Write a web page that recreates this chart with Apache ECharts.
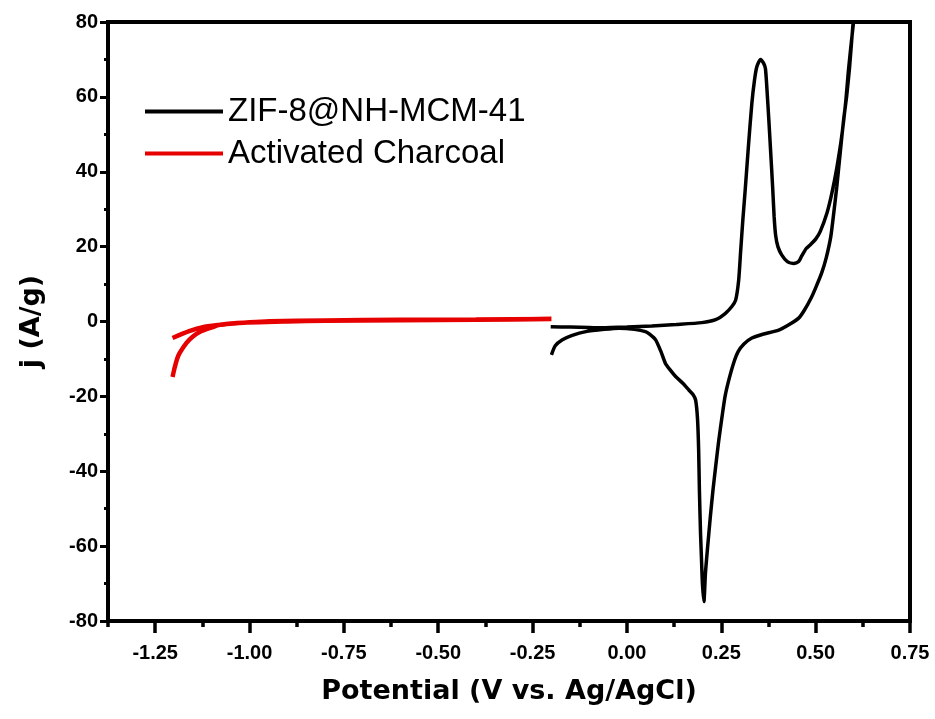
<!DOCTYPE html>
<html>
<head>
<meta charset="utf-8">
<script src="https://cdn.jsdelivr.net/npm/echarts@6/dist/echarts.min.js"></script>
<style>
  html, body { margin: 0; padding: 0; background: #fff; }
  #chart { width: 935px; height: 719px; }
</style>
</head>
<body>
<div id="chart"></div>
<script>
// series names
const seriesNames = ['ZIF-8@NH-MCM-41', 'Activated Charcoal']

// CV loop of ZIF-8@NH-MCM-41, [potential V, j A/g], in scan order
const zifCV = [
  [-0.202, -1.4], [-0.15, -1.5], [-0.1, -1.6], [-0.066, -1.7], [0, -1.5], [0.066, -1.2],
  [0.13, -0.8], [0.198, -0.3], [0.235, 0.5], [0.261, 2.2], [0.278, 4], [0.288, 5.7],
  [0.296, 11], [0.301, 18.3], [0.307, 27], [0.314, 36], [0.322, 47], [0.331, 58.3],
  [0.338, 64.5], [0.344, 68], [0.354, 70], [0.362, 69], [0.367, 67.5], [0.371, 62],
  [0.376, 53.8], [0.381, 45], [0.386, 36], [0.39, 28], [0.394, 23], [0.4, 20],
  [0.41, 17.8], [0.425, 16], [0.442, 15.5], [0.455, 16], [0.463, 17.5], [0.475, 19.5],
  [0.486, 20.5], [0.5, 22], [0.512, 24], [0.53, 29], [0.543, 34.3], [0.556, 41],
  [0.569, 49.4], [0.58, 59], [0.587, 67.2], [0.595, 75], [0.601, 80.5], [0.606, 86],
  [0.601, 82], [0.59, 68], [0.582, 60], [0.574, 53.8], [0.565, 45], [0.556, 36],
  [0.548, 29], [0.54, 22.6], [0.528, 17], [0.516, 13], [0.5, 9], [0.489, 6.5],
  [0.47, 3], [0.455, 0.9], [0.43, -0.8], [0.402, -2.3], [0.36, -3.4], [0.331, -4.4],
  [0.31, -6], [0.295, -8], [0.283, -11], [0.27, -15.6], [0.26, -20], [0.252, -25.4],
  [0.243, -32], [0.235, -38.8], [0.228, -45], [0.221, -52.1], [0.214, -60], [0.208, -67.2],
  [0.204, -74.8], [0.2, -70], [0.197, -62], [0.195, -56.6], [0.192, -45], [0.19, -34.3],
  [0.187, -26], [0.182, -21], [0.175, -19.5], [0.164, -18.3], [0.148, -16.5], [0.129, -14.7],
  [0.115, -13], [0.102, -11.2], [0.09, -8], [0.076, -4.9], [0.06, -3.4], [0.049, -2.7],
  [0.02, -2.1], [-0.021, -1.8], [-0.06, -2.1], [-0.109, -2.7], [-0.145, -3.7], [-0.171, -4.9],
  [-0.19, -6.5], [-0.2, -8.9]
]

// CV loop of activated charcoal
const charcoalCV = [
  [-1.204, -14.8], [-1.2, -13], [-1.198, -12.2], [-1.192, -10], [-1.185, -8.4], [-1.167, -5.7],
  [-1.15, -4], [-1.132, -2.8], [-1.1, -1.6], [-1.079, -0.9], [-1.0, -0.2], [-0.947, 0.1],
  [-0.8, 0.3], [-0.6, 0.45], [-0.4, 0.55], [-0.2, 0.7],
  [-0.4, 0.45], [-0.6, 0.35], [-0.8, 0.2], [-0.9, 0], [-1.034, -0.4], [-1.08, -0.9],
  [-1.124, -1.5], [-1.16, -2.6], [-1.204, -4.4]
]

// tick labels
const xMajorTicks = [-1.25, -1.0, -0.75, -0.5, -0.25, 0, 0.25, 0.5, 0.75]
const xMinorTicks = [-1.375, -1.125, -0.875, -0.625, -0.375, -0.125, 0.125, 0.375, 0.625]

const chart = echarts.init(document.getElementById('chart'))

const tickFont = {
  color: '#000',
  fontFamily: 'Liberation Sans',
  fontWeight: 'bold',
  fontSize: 20
}
const nameFont = {
  color: '#000',
  fontFamily: 'DejaVu Sans',
  fontWeight: 'bold',
  fontSize: 27
}
const legendCommon = {
  left: 140,
  orient: 'vertical',
  icon: 'rect',
  itemWidth: 78,
  itemHeight: 4,
  textStyle: {
    color: '#000',
    fontFamily: 'Liberation Sans',
    fontSize: 33
  }
}

chart.setOption({
  animation: false,
  backgroundColor: '#fff',
  grid: {
    left: 108,
    right: 25,
    top: 22,
    bottom: 98,
    show: true,
    borderColor: '#000',
    borderWidth: 4
  },
  legend: [
    Object.assign({}, legendCommon, { top: 90, data: [seriesNames[0]] }),
    Object.assign({}, legendCommon, { top: 132, data: [seriesNames[1]] })
  ],
  xAxis: [
    {
      type: 'value',
      min: -1.375,
      max: 0.75,
      name: 'Potential (V vs. Ag/AgCl)',
      nameLocation: 'middle',
      nameGap: 57,
      nameTextStyle: nameFont,
      axisLine: { show: true, onZero: false, lineStyle: { color: '#000', width: 4 } },
      axisTick: {
        show: true,
        customValues: xMajorTicks,
        length: 12,
        lineStyle: { color: '#000', width: 3.5 }
      },
      axisLabel: Object.assign({
        customValues: xMajorTicks,
        margin: 22,
        formatter: v => v.toFixed(2)
      }, tickFont),
      splitLine: { show: false }
    },
    {
      type: 'value',
      min: -1.375,
      max: 0.75,
      position: 'bottom',
      axisLine: { show: false, onZero: false },
      axisTick: {
        show: true,
        customValues: xMinorTicks,
        length: 6,
        lineStyle: { color: '#000', width: 3.5 }
      },
      axisLabel: { show: false },
      splitLine: { show: false }
    }
  ],
  yAxis: {
    type: 'value',
    min: -80,
    max: 80,
    interval: 20,
    name: 'j (A/g)',
    nameLocation: 'middle',
    nameGap: 63,
    nameTextStyle: nameFont,
    axisLine: { show: true, onZero: false, lineStyle: { color: '#000', width: 4 } },
    axisTick: { show: true, length: 8, lineStyle: { color: '#000', width: 3 } },
    minorTick: { show: true, splitNumber: 2, length: 4, lineStyle: { color: '#000', width: 3 } },
    axisLabel: Object.assign({ margin: 10 }, tickFont),
    splitLine: { show: false }
  },
  series: [
    {
      name: seriesNames[0],
      type: 'line',
      xAxisIndex: 0,
      data: zifCV,
      smooth: 0.2,
      symbol: 'none',
      color: '#000',
      lineStyle: { color: '#000', width: 3.5 }
    },
    {
      name: seriesNames[1],
      type: 'line',
      xAxisIndex: 0,
      data: charcoalCV,
      smooth: 0.2,
      symbol: 'none',
      color: '#e60000',
      lineStyle: { color: '#e60000', width: 4.5 }
    }
  ]
})
</script>
</body>
</html>
